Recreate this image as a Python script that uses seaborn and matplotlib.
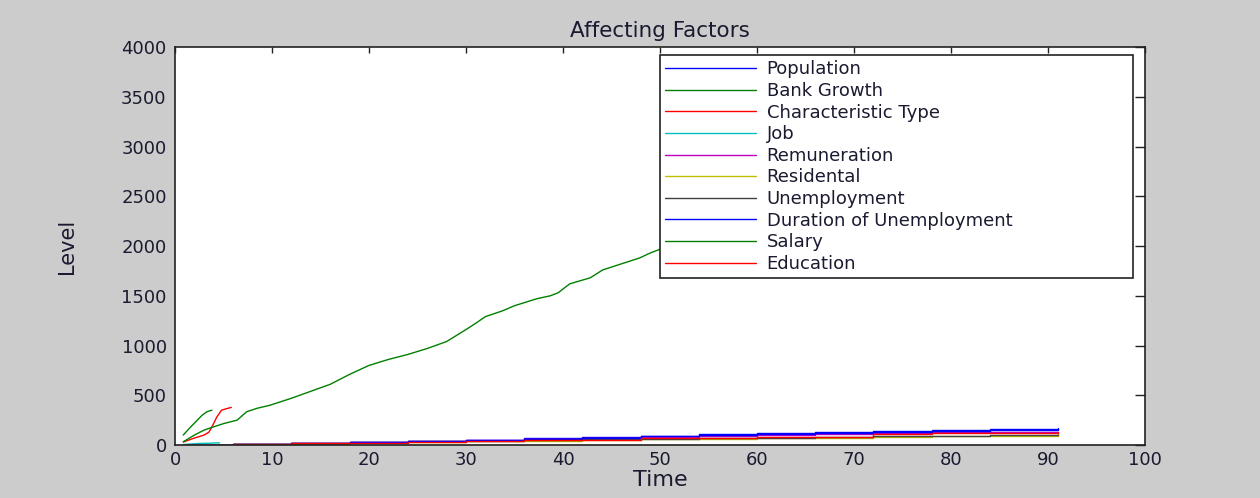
import matplotlib
matplotlib.use("Agg")
import matplotlib.pyplot as plt
import seaborn as sns
import pandas as pd

# values
step_time = [1, 6, 12, 18, 24, 30, 36, 42, 48, 54, 60, 66, 72, 78, 84, 91]
population = [5, 12, 20, 30, 42, 55, 68, 82, 95, 107, 117, 127, 141, 151, 161, 167]
remuneration = [3, 10, 18, 28, 38, 50, 62, 72, 82, 92, 102, 112, 122, 128, 132, 134]
residental = [2, 8, 15, 22, 30, 38, 45, 52, 58, 64, 67, 67, 83, 90, 94, 107]
unemployment = [2, 8, 18, 28, 36, 42, 50, 56, 62, 68, 74, 80, 86, 92, 98, 104]
duration_unemp = [3, 10, 18, 28, 38, 50, 62, 75, 88, 100, 110, 120, 132, 142, 152, 160]
education = [3, 10, 18, 25, 32, 40, 48, 55, 67, 67, 77, 77, 110, 123, 125, 127]

bank_time = [0.85, 1.5, 2.2, 2.8, 3.3, 3.8]
bank_growth = [100, 170, 240, 300, 335, 350]

char_time = [0.85, 2.0, 3.0, 3.5, 3.9, 4.3, 4.8, 5.3, 5.8]
char_type = [30, 70, 100, 130, 200, 280, 350, 365, 378]

job_time = [0.85, 2.3, 3.5, 4.6]
job = [5, 15, 18, 22]

salary_time = [0.85, 2, 3, 3.9, 5, 6.4, 7.4, 8.5, 9.8, 12, 14, 16, 17, 18, 20, 22,
               24, 26, 28, 29, 30, 31.1, 32, 33.8, 35, 37.3, 38.7, 39.5, 40.7,
               42.8, 44.1, 46, 47.9, 49, 49.8, 55, 60, 65, 70, 75, 80, 85, 90.7]
salary = [33, 100, 150, 180, 215, 250, 335, 370, 400, 470, 540, 610, 660, 710, 800,
          860, 910, 970, 1040, 1100, 1160, 1230, 1290, 1350, 1400, 1470, 1500, 1530,
          1620, 1680, 1760, 1820, 1880, 1930, 1960, 2180, 2380, 2580, 2790, 3000,
          3200, 3400, 3600]

sns.set_style("white")
plt.rcParams['font.family'] = ['DejaVu Sans']

fig = plt.figure(figsize=(12.6, 4.98), dpi=100, facecolor='#cccccc')
ax = fig.add_axes([0.1389, 0.1064, 0.7698, 0.7992])
ax.set_facecolor('white')

series = [
    ("Population", step_time, population, '#0000ff', True),
    ("Bank Growth", bank_time, bank_growth, '#008000', False),
    ("Characteristic Type", char_time, char_type, '#ff0000', False),
    ("Job", job_time, job, '#00bfbf', False),
    ("Remuneration", step_time, remuneration, '#bf00bf', True),
    ("Residental", step_time, residental, '#bfbf00', True),
    ("Unemployment", step_time, unemployment, '#404040', True),
    ("Duration of Unemployment", step_time, duration_unemp, '#0000ff', True),
    ("Salary", salary_time, salary, '#008000', False),
    ("Education", step_time, education, '#ff0000', True),
]

for name, t, v, color, stepped in series:
    df = pd.DataFrame({'Time': t, 'Level': v})
    sns.lineplot(data=df, x='Time', y='Level', ax=ax, color=color, linewidth=1,
                 label=name, sort=False, estimator=None,
                 drawstyle='steps-post' if stepped else 'default')

ax.set_xlim(0, 100)
ax.set_ylim(0, 4000)
ax.set_xticks(range(0, 101, 10))
ax.set_yticks(range(0, 4001, 500))
ax.tick_params(axis='both', direction='in', top=True, right=True,
               labelsize=13, labelcolor='#1a1a30', color='#222222', width=1)
ax.tick_params(axis='y', length=7, pad=6)
ax.tick_params(axis='x', length=4, pad=4)
for s in ax.spines.values():
    s.set_color('#222222')
    s.set_linewidth(1.2)

ax.set_title("Affecting Factors", fontsize=15.5, color='#1a1a30', pad=7)
ax.set_xlabel("Time", fontsize=16, color='#1a1a30', labelpad=1)
ax.set_ylabel("Level", fontsize=15, color='#1a1a30', labelpad=32)

# legend box placed where the reference has it (axes coords)
leg = ax.legend(loc='upper left', bbox_to_anchor=(0.5, 0.42, 0.4876, 0.56),
                mode='expand', borderaxespad=0,
                fontsize=13, handlelength=5.0, handletextpad=0.6,
                labelspacing=0.2, fancybox=False, framealpha=1,
                edgecolor='#222222', borderpad=0.3)
leg.get_frame().set_linewidth(1.2)
for txt in leg.get_texts():
    txt.set_color('#1a1a30')

fig.savefig("out.png", dpi=100, facecolor=fig.get_facecolor())
